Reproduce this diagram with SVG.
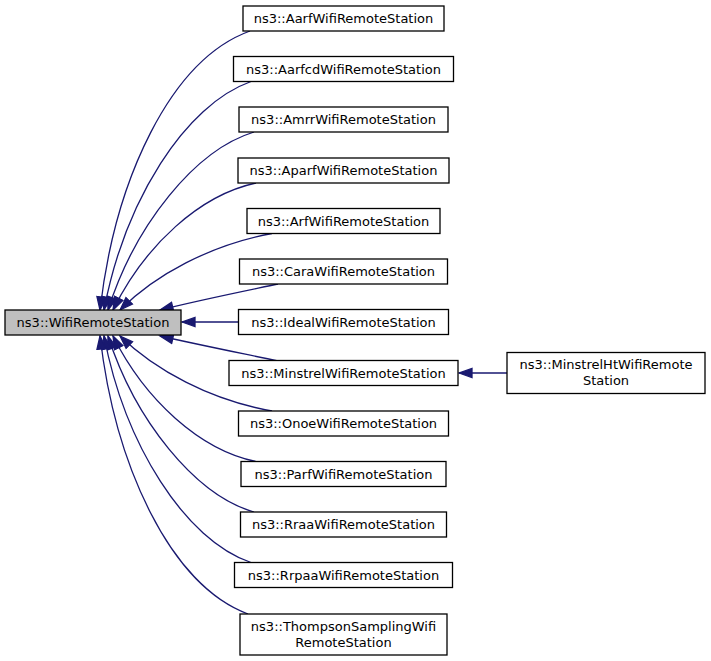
<svg xmlns="http://www.w3.org/2000/svg" width="711" height="661" viewBox="0 0 711 661">
<style>
.n rect{fill:#fff;stroke:#000;stroke-width:1.3}
.n text{font-family:"DejaVu Sans","Liberation Sans",sans-serif;font-size:13px;fill:#000;text-anchor:middle}
#WifiRemoteStation rect{fill:#bfbfbf}
.e path{fill:none;stroke:#191970;stroke-width:1.3;marker-end:url(#arr)}
</style>
<defs>
<marker id="arr" markerUnits="userSpaceOnUse" markerWidth="16" markerHeight="12" viewBox="-14 -6 16 12" refX="0" refY="0" orient="auto">
<path d="M0,0 L-13,-4.6 L-13,4.6 Z" fill="#191970" stroke="#191970" stroke-width="1.3"/>
</marker>
</defs>
<rect width="711" height="661" fill="#fff"/>
<g id="edges" class="e">
<path d="M250,31 C170,60 115,180 100,310"/>
<path d="M251,81.5 C185,105 125,200 104,310"/>
<path d="M254,132 C195,150 135,225 108,310"/>
<path d="M256,183 C200,195 145,245 113,310"/>
<path d="M272,233.5 C210,245 155,275 120,310"/>
<path d="M278,284 C240,292 200,300 160,310"/>
<path d="M238,322 L182,322"/>
<path d="M278,361 C240,353 200,345 160,336"/>
<path d="M272,411 C210,400 155,370 120,336"/>
<path d="M256,461.5 C200,450 145,400 113,336"/>
<path d="M254,512 C195,495 135,420 108,336"/>
<path d="M251,562.5 C185,540 125,445 104,336"/>
<path d="M248,614 C170,585 115,465 100,336"/>
<path d="M507,373 L459,373"/>
</g>
<g id="WifiRemoteStation" class="n"><rect x="5" y="310" width="176" height="25"/><text x="93" y="327">ns3::WifiRemoteStation</text></g>
<g id="AarfWifiRemoteStation" class="n"><rect x="243" y="6" width="201" height="25"/><text x="343.5" y="23">ns3::AarfWifiRemoteStation</text></g>
<g id="AarfcdWifiRemoteStation" class="n"><rect x="233.5" y="56.5" width="220" height="25"/><text x="343.5" y="73.5">ns3::AarfcdWifiRemoteStation</text></g>
<g id="AmrrWifiRemoteStation" class="n"><rect x="239" y="107" width="209" height="25"/><text x="343.5" y="124">ns3::AmrrWifiRemoteStation</text></g>
<g id="AparfWifiRemoteStation" class="n"><rect x="238" y="158" width="211" height="25"/><text x="343.5" y="175">ns3::AparfWifiRemoteStation</text></g>
<g id="ArfWifiRemoteStation" class="n"><rect x="247" y="208.5" width="193" height="25"/><text x="343.5" y="225.5">ns3::ArfWifiRemoteStation</text></g>
<g id="CaraWifiRemoteStation" class="n"><rect x="239.5" y="259" width="208" height="25"/><text x="343.5" y="276">ns3::CaraWifiRemoteStation</text></g>
<g id="IdealWifiRemoteStation" class="n"><rect x="238.5" y="309.5" width="210" height="25"/><text x="343.5" y="326.5">ns3::IdealWifiRemoteStation</text></g>
<g id="MinstrelWifiRemoteStation" class="n"><rect x="229" y="360.5" width="229" height="25"/><text x="343.5" y="377.5">ns3::MinstrelWifiRemoteStation</text></g>
<g id="OnoeWifiRemoteStation" class="n"><rect x="238.5" y="411" width="210" height="25"/><text x="343.5" y="428">ns3::OnoeWifiRemoteStation</text></g>
<g id="ParfWifiRemoteStation" class="n"><rect x="241" y="461.5" width="205" height="25"/><text x="343.5" y="478.5">ns3::ParfWifiRemoteStation</text></g>
<g id="RraaWifiRemoteStation" class="n"><rect x="240.5" y="512" width="206" height="25"/><text x="343.5" y="529">ns3::RraaWifiRemoteStation</text></g>
<g id="RrpaaWifiRemoteStation" class="n"><rect x="234.5" y="562.5" width="218" height="25"/><text x="343.5" y="579.5">ns3::RrpaaWifiRemoteStation</text></g>
<g id="ThompsonSamplingWifiRemoteStation" class="n"><rect x="240" y="614" width="207" height="41"/><text x="343.5" y="630.5">ns3::ThompsonSamplingWifi</text><text x="343.5" y="646.5">RemoteStation</text></g>
<g id="MinstrelHtWifiRemoteStation" class="n"><rect x="507" y="352.5" width="198" height="41"/><text x="606" y="369">ns3::MinstrelHtWifiRemote</text><text x="606" y="385">Station</text></g>
</svg>
